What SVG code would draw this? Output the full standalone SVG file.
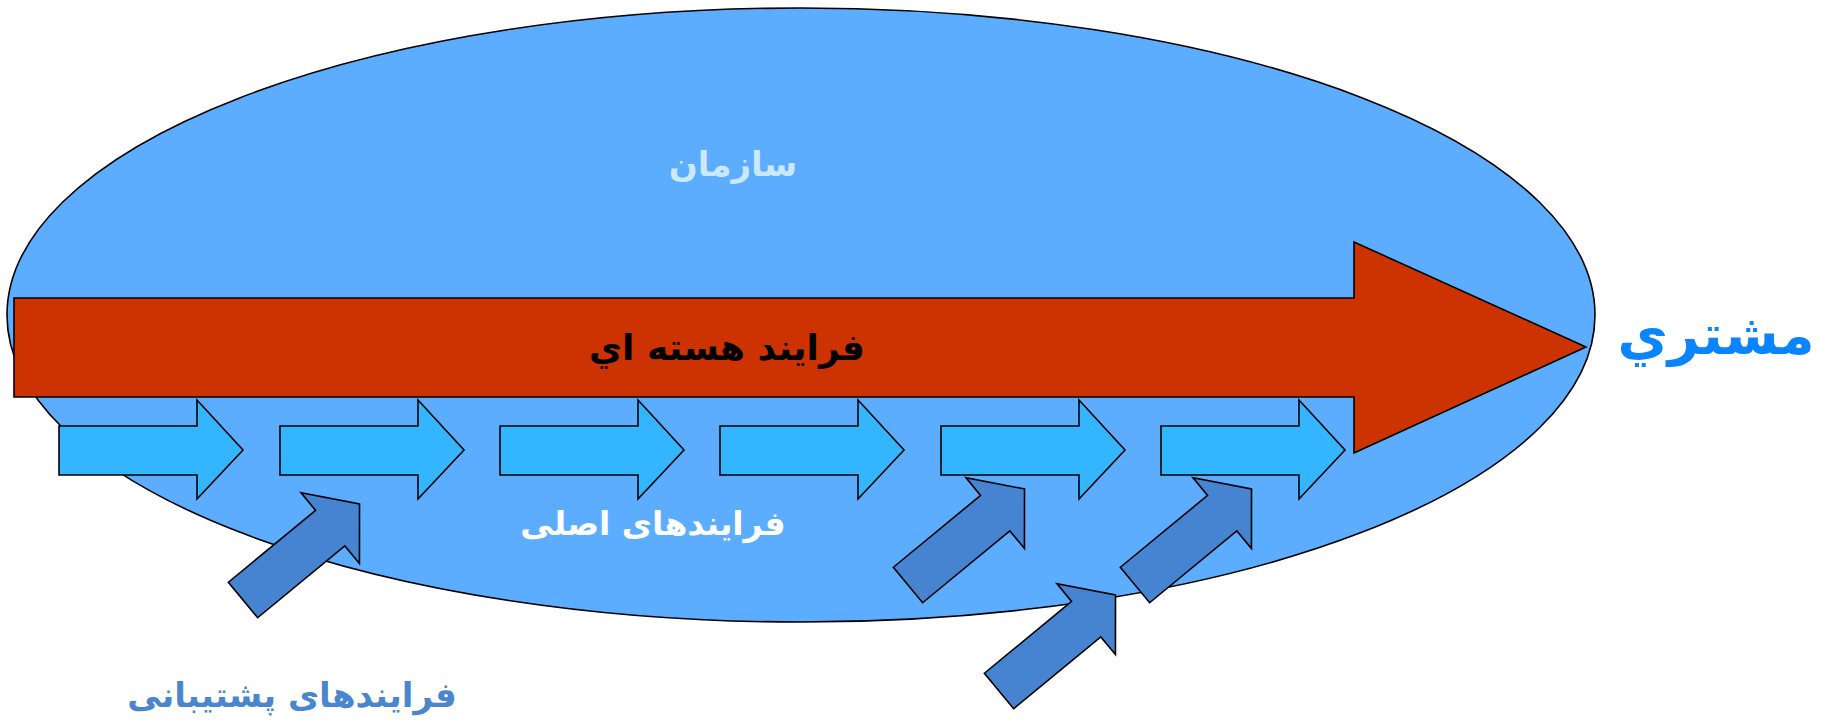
<svg xmlns="http://www.w3.org/2000/svg" width="1821" height="722" viewBox="0 0 1821 722">
  <style>
    .shape { stroke: #000; stroke-width: 1.6; stroke-linejoin: miter; }
    .org { fill: #5cadff; }
    .core { fill: #cc3300; }
    .step { fill: #33b5ff; }
    .support { fill: #4684d2; }
    .lbl { font-family: "DejaVu Sans", "Liberation Sans", sans-serif; font-weight: bold; text-anchor: middle; direction: rtl; }
  </style>
  <defs>
    <!-- main process step: right-pointing block arrow, origin at tail top-left -->
    <path id="step-arrow" d="M0,26 H138 V0 L184,50 L138,99 V75 H0 Z"/>
    <!-- support input: block arrow, origin at tail centre, pointing +x -->
    <path id="support-arrow" d="M0,-23 H113 V-46 L151,0 L113,46 V23 H0 Z"/>
  </defs>

  <g id="organization">
    <ellipse class="shape org" cx="801" cy="315" rx="794" ry="307"/>
    <text class="lbl" x="733" y="176" font-size="34" fill="#cce8ff">سازمان</text>
  </g>

  <g id="core-process">
    <path class="shape core" d="M14,298 H1354 V242 L1586,347 L1354,453 V397 H14 Z"/>
    <text class="lbl" x="727" y="360" font-size="36" fill="#000">فرايند هسته اي</text>
  </g>

  <g id="main-processes">
    <use class="shape step" href="#step-arrow" x="59" y="400"/>
    <use class="shape step" href="#step-arrow" x="280" y="400"/>
    <use class="shape step" href="#step-arrow" x="500" y="400"/>
    <use class="shape step" href="#step-arrow" x="720" y="400"/>
    <use class="shape step" href="#step-arrow" x="941" y="400"/>
    <use class="shape step" href="#step-arrow" x="1161" y="400"/>
    <text class="lbl" x="653" y="535" font-size="33" fill="#ffffff">فرایندهای اصلی</text>
  </g>

  <g id="support-processes">
    <use class="shape support" href="#support-arrow" transform="translate(243,600) rotate(-39.5)"/>
    <use class="shape support" href="#support-arrow" transform="translate(908,585) rotate(-39.5)"/>
    <use class="shape support" href="#support-arrow" transform="translate(1135,585) rotate(-39.5)"/>
    <use class="shape support" href="#support-arrow" transform="translate(999,691) rotate(-39.5)"/>
    <text class="lbl" x="292" y="707" font-size="34" fill="#4a86d0">فرایندهای پشتیبانی</text>
  </g>

  <g id="customer">
    <text class="lbl" x="1716" y="354" font-size="55" fill="#0a84ff">مشتري</text>
  </g>
</svg>
